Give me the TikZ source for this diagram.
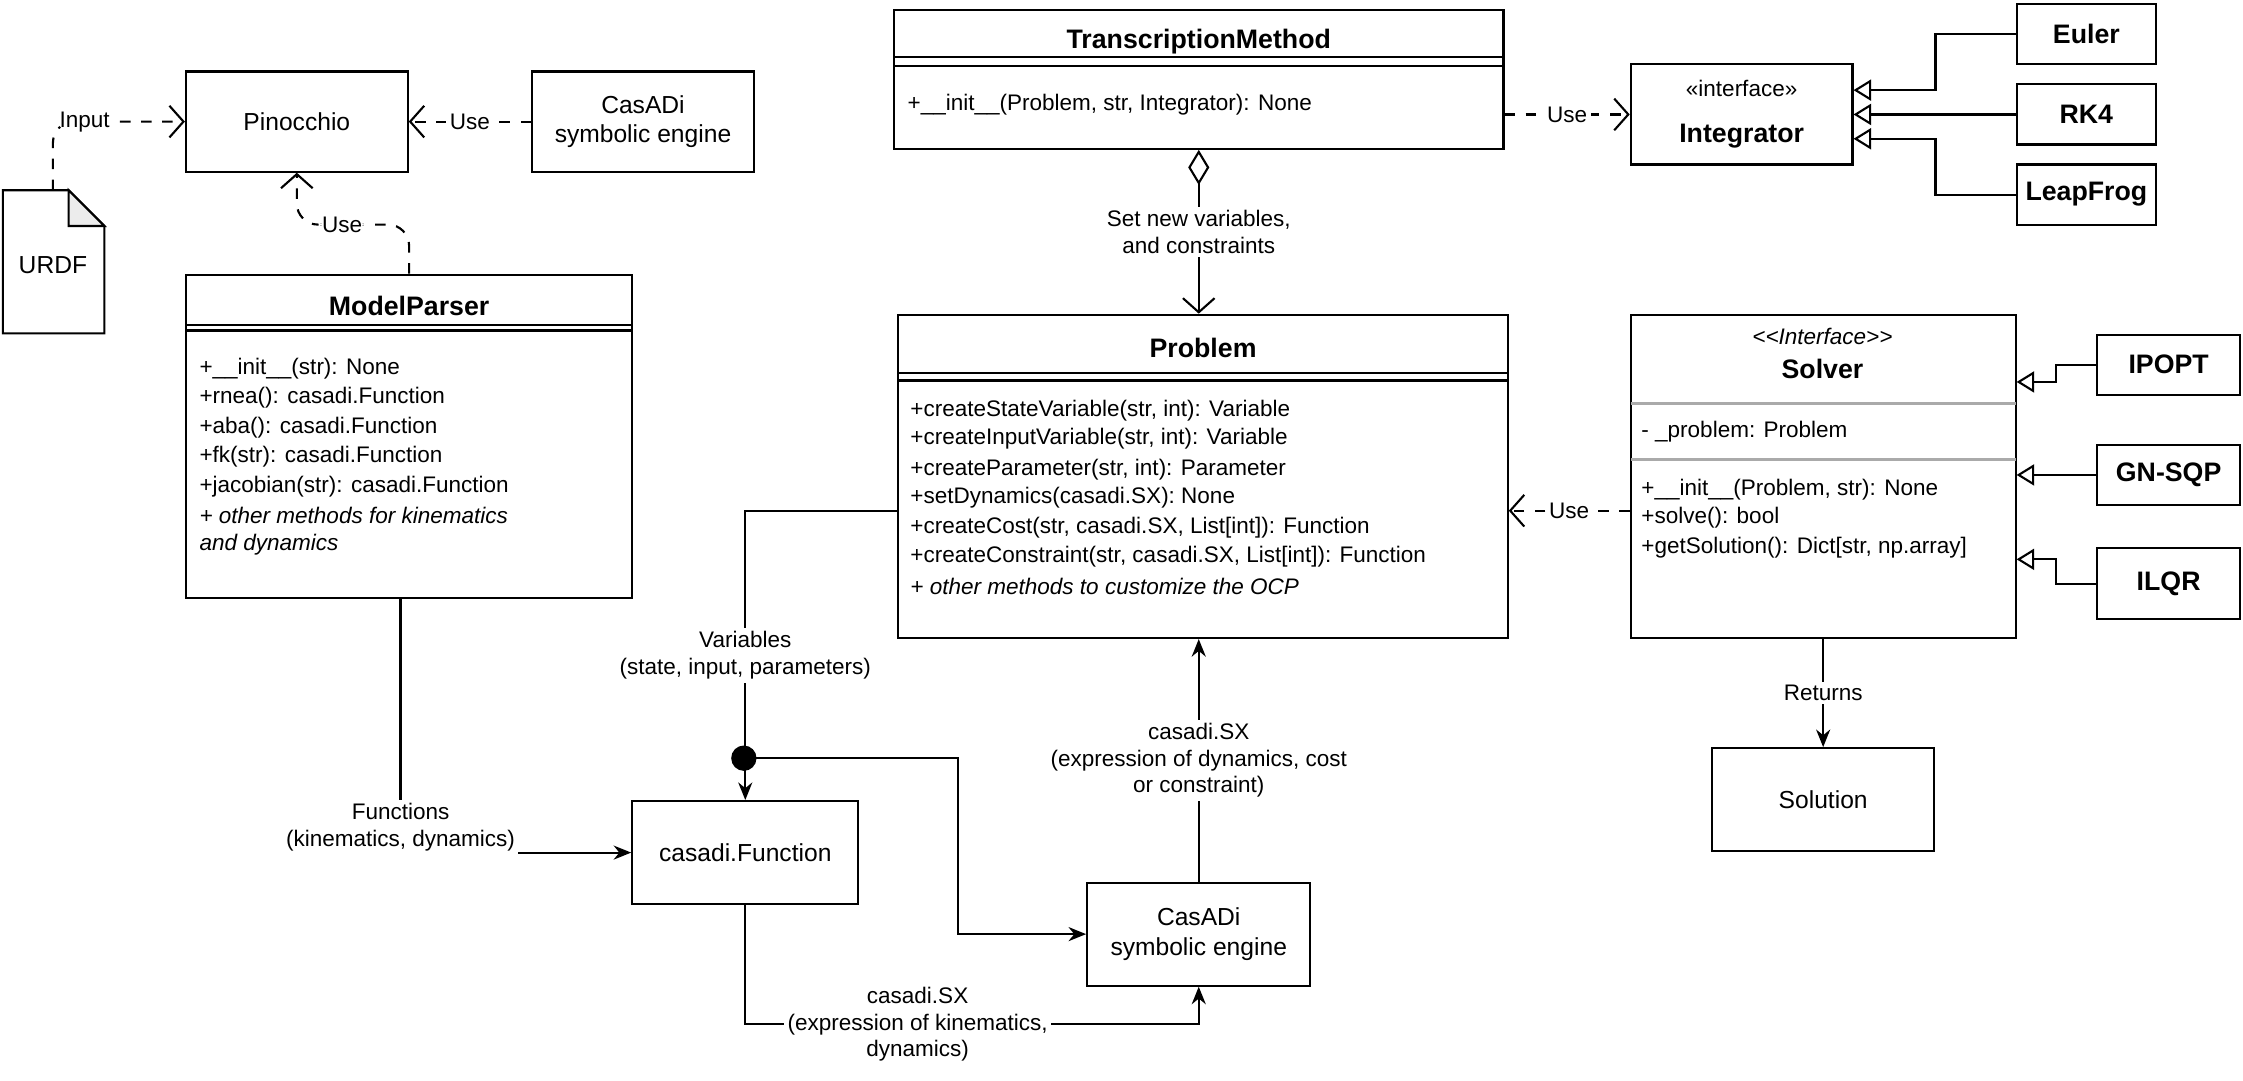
\documentclass[tikz,border=0pt]{standalone}
\usepackage{fontspec}
\setmainfont{Liberation Sans}
\usepackage{xcolor}
\usetikzlibrary{arrows.meta,fit,calc}
\definecolor{OCPLine}{RGB}{0, 0, 0}
\definecolor{OCPSep}{RGB}{170, 170, 170}

\tikzset{
  box/.style={draw=OCPLine, line width=0.6pt, inner sep=0pt, align=center,
    font=\fontsize{7}{8.4}\selectfont},
  impl/.style={box, font=\fontsize{7}{8.4}\selectfont\bfseries},
  title/.style={font=\fontsize{7.6}{9}\selectfont\bfseries},
  member/.style={anchor=west, inner sep=0pt, font=\fontsize{6.4}{7.6}\selectfont},
  lbl/.style={fill=white, inner sep=1pt, align=center, font=\fontsize{6.4}{7.6}\selectfont},
  use/.style={line width=0.6pt, dashed, -{Straight Barb[length=4pt,width=9pt]}},
  flow/.style={line width=0.6pt, -{Stealth[length=5pt,width=4pt]}},
  inherit/.style={line width=0.6pt, -{Triangle[open,length=5pt,width=6pt]}}
}

\begin{document}
\begin{tikzpicture}[x=0.0143cm, y=-0.0143cm]
    \useasboundingbox (0,0) rectangle (1568,755);

    % Model side
    \node[box, fit={(130,50) (285,120)}] (pino) {};
    \node[font=\fontsize{7}{8.4}\selectfont] at (pino.center) {Pinocchio};
    \node[box, fit={(372,50) (527,120)}] (casTop) {};
    \node[align=center, font=\fontsize{7}{8.4}\selectfont] at (casTop.center) {CasADi\\symbolic engine};
    \coordinate (urdf) at (37,133);
    \draw[line width=0.6pt, fill=white] (2,133) -- (48,133) -- (73,158) -- (73,233) -- (2,233) -- cycle;
    \draw[line width=0.6pt, fill=gray!15] (48,133) -- (48,158) -- (73,158) -- cycle;
    \node[font=\fontsize{7}{8.4}\selectfont] at (37,185) {URDF};

    \node[box, fit={(130,192) (442,418)}] (parser) {};
    \node[title] at (286,214) {ModelParser};
    \draw[line width=0.6pt] (130,227) -- (442,227) (130,231) -- (442,231);
    \node[member] at (139,258) {+\_\_init\_\_(str): None};
    \node[member] at (139,278) {+rnea(): casadi.Function};
    \node[member] at (139,299) {+aba(): casadi.Function};
    \node[member] at (139,319) {+fk(str): casadi.Function};
    \node[member] at (139,340) {+jacobian(str): casadi.Function};
    \node[member] at (139,360) {\itshape + other methods for kinematics};
    \node[member] at (139,381) {\itshape and dynamics};

    \draw[use, rounded corners=6pt] (urdf) |- node[lbl, pos=0.62] {Input} (pino.west);
    \draw[use] (casTop.west) -- node[lbl] {Use} (pino.east);
    \draw[use, rounded corners=6pt] (parser.north) |- (247,157) -| node[lbl, pos=0.1] {Use} (pino.south);

    % Transcription and integrators
    \node[box, fit={(625,7) (1051,104)}] (transcr) {};
    \node[title] at (838,29) {TranscriptionMethod};
    \draw[line width=0.6pt] (625,40) -- (1051,40) (625,46) -- (1051,46);
    \node[member] at (634,73) {+\_\_init\_\_(Problem, str, Integrator): None};

    \node[box, fit={(1140,45) (1295,115)}] (integ) {};
    \node[align=center] at (integ.center) {\fontsize{6.4}{8}\selectfont «interface»\\[1pt]\fontsize{7.6}{9}\selectfont\bfseries Integrator};
    \draw[use] (transcr.east |- integ.west) -- node[lbl] {Use} (integ.west);

    \node[impl, fit={(1410,3) (1507,45)}] (euler) {};
    \node[title] at (euler.center) {Euler};
    \node[impl, fit={(1410,59) (1507,101)}] (rk) {};
    \node[title] at (rk.center) {RK4};
    \node[impl, fit={(1410,115) (1507,157)}] (leap) {};
    \node[title] at (leap.center) {LeapFrog};
    \draw[inherit] (euler.west) -| (1353,63) -- (integ.east |- 0,63);
    \draw[inherit] (rk.west) -- (integ.east |- rk.west);
    \draw[inherit] (leap.west) -| (1353,97) -- (integ.east |- 0,97);

    % Problem
    \node[box, fit={(628,220) (1054,446)}] (problem) {};
    \node[title] at (841,243) {Problem};
    \draw[line width=0.6pt] (628,261) -- (1054,261) (628,266) -- (1054,266);
    \node[member] at (636,287) {+createStateVariable(str, int): Variable};
    \node[member] at (636,307) {+createInputVariable(str, int): Variable};
    \node[member] at (636,328) {+createParameter(str, int): Parameter};
    \node[member] at (636,348) {+setDynamics(casadi.SX): None};
    \node[member] at (636,369) {+createCost(str, casadi.SX, List[int]): Function};
    \node[member] at (636,389) {+createConstraint(str, casadi.SX, List[int]): Function};
    \node[member] at (636,410) {\itshape + other methods to customize the OCP};
    \draw[line width=0.6pt, {Diamond[open,length=10pt,width=6pt]}-{Straight Barb[length=4pt,width=9pt]}]
        (transcr.south -| 838,0) -- node[lbl] {Set new variables,\\and constraints} (problem.north -| 838,0);

    % Solver
    \node[box, fit={(1140,220) (1409,446)}] (solver) {};
    \node[font=\fontsize{6.4}{7.6}\selectfont\itshape] at (1274,235) {<{}<Interface>{}>};
    \node[title] at (1274,258) {Solver};
    \draw[OCPSep, line width=0.9pt] (1140,282) -- (1409,282) (1140,321) -- (1409,321);
    \node[member] at (1147,302) {- \_problem: Problem};
    \node[member] at (1147,342) {+\_\_init\_\_(Problem, str): None};
    \node[member] at (1147,362) {+solve(): bool};
    \node[member] at (1147,383) {+getSolution(): Dict[str, np.array]};
    \draw[use] (solver.west |- 0,357) -- node[lbl] {Use} (problem.east |- 0,357);

    \node[impl, fit={(1466,234) (1566,276)}] (ipopt) {};
    \node[title] at (ipopt.center) {IPOPT};
    \node[impl, fit={(1466,311) (1566,353)}] (gnsqp) {};
    \node[title] at (gnsqp.center) {GN-SQP};
    \node[impl, fit={(1466,383) (1566,433)}] (ilqr) {};
    \node[title] at (ilqr.center) {ILQR};
    \draw[inherit] (ipopt.west) -| (1437,267) -- (solver.east |- 0,267);
    \draw[inherit] (gnsqp.west) -- (solver.east |- gnsqp.west);
    \draw[inherit] (ilqr.west) -| (1437,391) -- (solver.east |- 0,391);

    \node[box, fit={(1197,523) (1352,595)}] (solution) {};
    \node[font=\fontsize{7}{8.4}\selectfont] at (solution.center) {Solution};
    \draw[flow] (solver.south -| solution.north) -- node[lbl] {Returns} (solution.north);

    % CasADi flow
    \node[box, fit={(442,560) (600,632)}] (cfun) {};
    \node[font=\fontsize{7}{8.4}\selectfont] at (cfun.center) {casadi.Function};
    \node[box, fit={(760,617) (916,689)}] (casBot) {};
    \node[align=center, font=\fontsize{7}{8.4}\selectfont] at (casBot.center) {CasADi\\symbolic engine};
    \coordinate (split) at (520,530);

    \draw[flow] (problem.west |- 0,357) -| node[lbl, pos=0.75] {Variables\\(state, input, parameters)} (cfun.north);
    \fill (split) circle (3.6pt);
    \draw[flow] (split) -| (670,653) -- (casBot.west |- 0,653);
    \draw[flow] (parser.south -| 280,0) |- node[lbl, pos=0.45] {Functions\\(kinematics, dynamics)} (cfun.west);
    \draw[flow] (cfun.south) |- node[lbl, pos=0.69] {casadi.SX\\(expression of kinematics,\\dynamics)} (838,716) -- (casBot.south -| 838,0);
    \draw[flow] (casBot.north -| 838,0) -- node[lbl, pos=0.5] {casadi.SX\\(expression of dynamics, cost\\or constraint)} (problem.south -| 838,0);
\end{tikzpicture}
\end{document}
